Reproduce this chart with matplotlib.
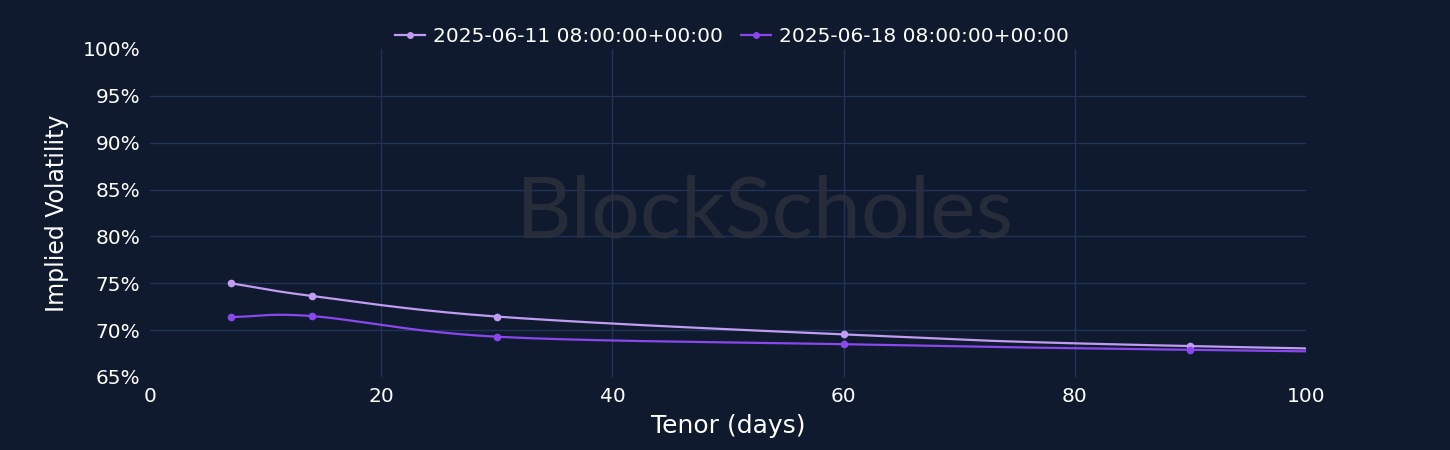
import numpy as np
import matplotlib.pyplot as plt
from matplotlib.ticker import FuncFormatter

tenor = [7, 14, 30, 60, 90, 180]
iv_0611 = [75.0, 73.65, 71.45, 69.55, 68.3, 66.3]
iv_0618 = [71.4, 71.5, 69.3, 68.5, 67.9, 66.5]
labels = ['2025-06-11 08:00:00+00:00', '2025-06-18 08:00:00+00:00']
colors = ['#c09cf2', '#8a47ee']

BG = '#0f1a2e'
GRID = '#223358'


def smooth(xs, ys, n=40):
    # catmull-rom style curve through the points
    xs = np.asarray(xs, float)
    ys = np.asarray(ys, float)
    px = np.concatenate([[2 * xs[0] - xs[1]], xs, [2 * xs[-1] - xs[-2]]])
    py = np.concatenate([[2 * ys[0] - ys[1]], ys, [2 * ys[-1] - ys[-2]]])
    ox, oy = [], []
    for i in range(1, len(px) - 2):
        t = np.linspace(0, 1, n)
        p0, p1, p2, p3 = px[i - 1:i + 3]
        q0, q1, q2, q3 = py[i - 1:i + 3]
        def cr(a, b, c, d):
            return 0.5 * ((2 * b) + (-a + c) * t + (2 * a - 5 * b + 4 * c - d) * t ** 2
                          + (-a + 3 * b - 3 * c + d) * t ** 3)
        ox.append(cr(p0, p1, p2, p3))
        oy.append(cr(q0, q1, q2, q3))
    return np.concatenate(ox), np.concatenate(oy)


fig = plt.figure(figsize=(14.5, 4.5), dpi=100, facecolor=BG)
ax = fig.add_axes([150 / 1450, 1 - 377 / 450, 1156 / 1450, 328 / 450])
ax.set_facecolor(BG)

xticks = [0, 20, 40, 60, 80, 100]
yticks = list(range(65, 101, 5))

# grid only on the inner ticks, like the original
for x in xticks[1:-1]:
    ax.axvline(x, color=GRID, lw=1, zorder=0)
for y in yticks[1:-1]:
    ax.axhline(y, color=GRID, lw=1, zorder=0)

fig.text(764 / 1450, 1 - 214 / 450, 'BlockScholes', ha='center', va='center',
         fontsize=62, family='Lato', color='#2b303b', alpha=0.85, zorder=1)

for ys, lab, c in zip([iv_0611, iv_0618], labels, colors):
    sx, sy = smooth(tenor, ys)
    ax.plot(sx, sy, color=c, lw=1.6, zorder=3)
    ax.plot(tenor, ys, 'o', color=c, ms=4.5, zorder=4)
    ax.plot([], [], '-o', color=c, lw=1.6, ms=4, label=lab)

ax.set_xlim(0, 100)
ax.set_ylim(65, 100)
ax.set_xticks(xticks)
ax.set_yticks(yticks)
ax.yaxis.set_major_formatter(FuncFormatter(lambda v, p: f'{v:.0f}%'))
for s in ax.spines.values():
    s.set_visible(False)
ax.tick_params(colors='white', labelsize=14.5, length=0, pad=7)

ax.set_xlabel('Tenor (days)', color='white', fontsize=18, labelpad=6)
ax.set_ylabel('Implied Volatility', color='white', fontsize=17, labelpad=10)

leg = fig.legend(loc='center', bbox_to_anchor=(0.5 + 7 / 1450, 1 - 37 / 450), ncol=2,
                 frameon=False, fontsize=14.5, labelcolor='white', handlelength=1.5,
                 columnspacing=0.9, handletextpad=0.4)

fig.savefig('out.png', dpi=100, facecolor=BG)
